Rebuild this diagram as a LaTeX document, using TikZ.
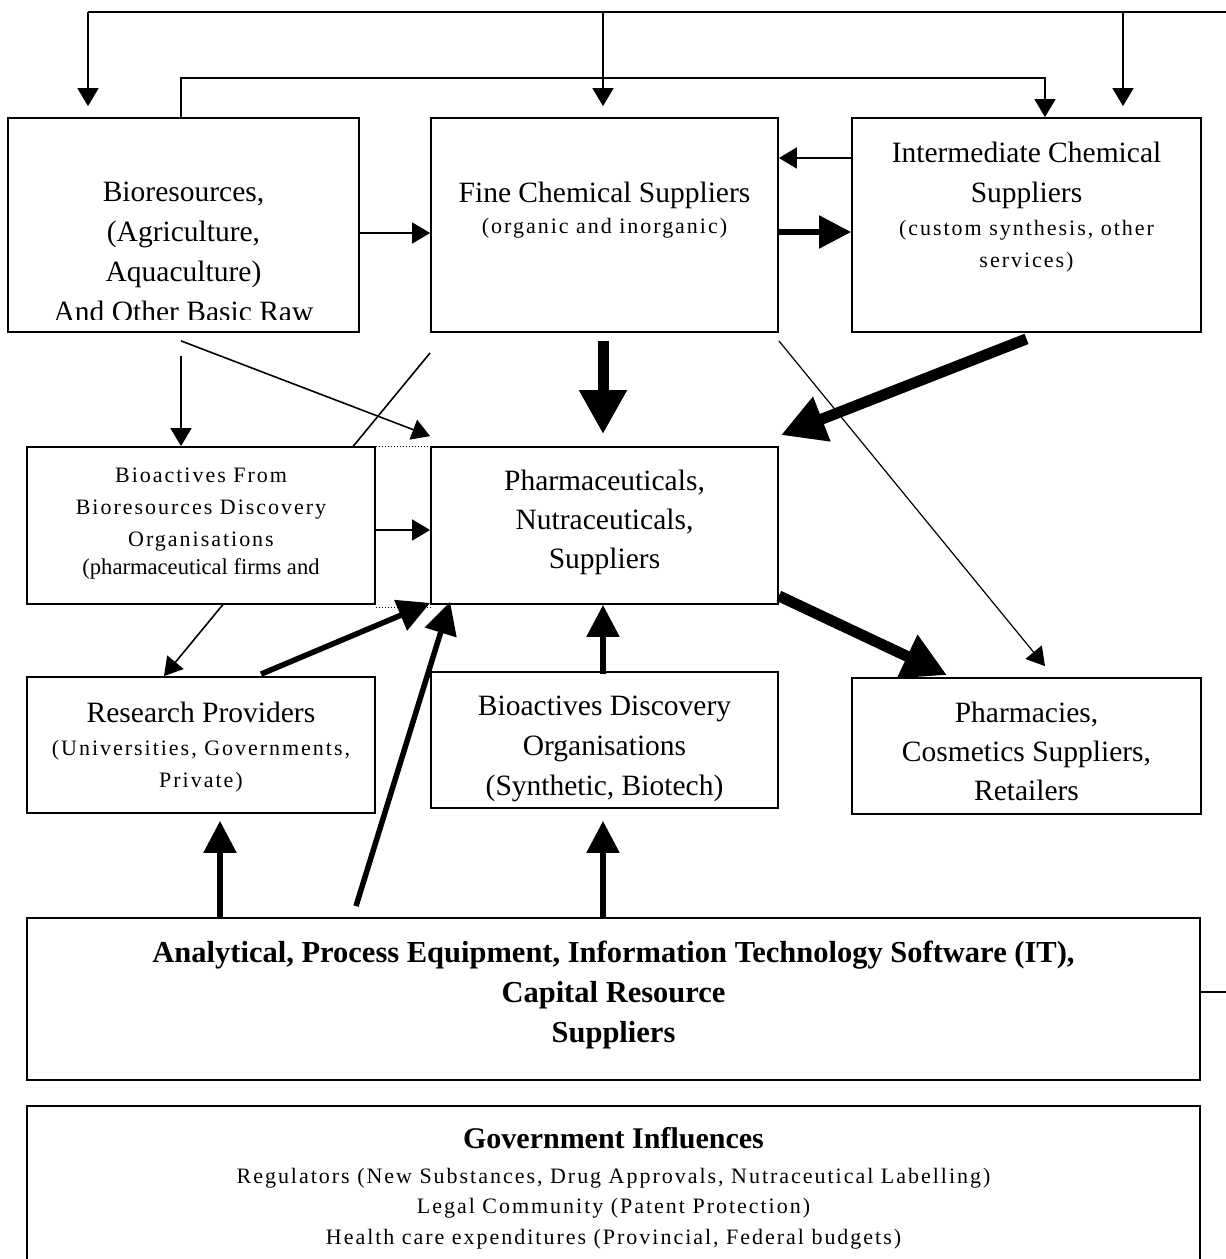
\documentclass[tikz,border=0pt]{standalone}
\usepackage{fontspec}
\setmainfont{Liberation Serif}
\newfontfamily\spacedserif[LetterSpace=9]{Liberation Serif}
\newcommand{\bigtext}{\fontsize{29.5}{40}\selectfont}
\newcommand{\subtext}{\spacedserif\fontsize{22}{32}\selectfont}
\usetikzlibrary{arrows.meta}
\usetikzlibrary{backgrounds}

\begin{document}
\begin{tikzpicture}[x=1pt, y=-1pt,
    box/.style = {draw, line width=1.8pt, fill=white, inner sep=0pt},
    txt/.style = {align=center, inner sep=0pt, anchor=north},
    thin/.style = {line width=1.6pt, -{Triangle[length=18pt, width=21pt]}},
    mid/.style = {line width=5.5pt, -{Triangle[length=32pt, width=32pt]}},
    heavy/.style = {line width=11pt, -{Triangle[length=44pt, width=45pt]}}]
    \useasboundingbox (0,0) rectangle (1226,1259);
    % Nodes
    \node[box, minimum width=351pt, minimum height=214pt] (biores) at (183.5,225) {};
    \node[box, minimum width=347pt, minimum height=214pt] (fine) at (604.5,225) {};
    \node[box, minimum width=349pt, minimum height=214pt] (inter) at (1026.5,225) {};
    \node[box, minimum width=348pt, minimum height=157pt] (biofrom) at (201,525.5) {};
    \node[box, minimum width=347pt, minimum height=157pt] (pharma) at (604.5,525.5) {};
    \node[box, minimum width=348pt, minimum height=136pt] (research) at (201,745) {};
    \node[box, minimum width=347pt, minimum height=136pt] (biodisc) at (604.5,740) {};
    \node[box, minimum width=349pt, minimum height=136pt] (pharmacies) at (1026.5,746) {};
    \node[box, minimum width=1173pt, minimum height=162pt] (analytic) at (613.5,999) {};
    \node[box, minimum width=1173pt, minimum height=159pt] (gov) at (613.5,1185.5) {};

    \begin{scope}
      \clip (biores.north west) rectangle ([yshift=13pt]biores.south east);
      \node[txt, font=\bigtext] (biores-t) at (183.5,182)
        {Bioresources,\\(Agriculture,\\Aquaculture)\\And Other Basic Raw};
    \end{scope}
    \node[txt, font=\fontsize{29.5}{31}\selectfont] (fine-t) at (604.5,182)
      {Fine Chemical Suppliers\\{\subtext (organic and inorganic)}};
    \node[txt, font=\fontsize{29.5}{32}\selectfont] (inter-t) at (1026.5,142)
      {Intermediate Chemical\\[8pt]Suppliers\\[1pt]{\subtext (custom synthesis, other}\\{\subtext services)}};
    \node[txt, font=\subtext] (biofrom-t) at (201,467.5)
      {Bioactives From\\Bioresources Discovery\\Organisations\\[-4pt]{\rmfamily\fontsize{22.6}{28}\selectfont (pharmaceutical firms and}};
    \node[txt, font=\fontsize{29.5}{39}\selectfont] (pharma-t) at (604.5,470)
      {Pharmaceuticals,\\Nutraceuticals,\\Suppliers};
    \node[txt, font=\fontsize{29.5}{32}\selectfont] (research-t) at (201,702)
      {Research Providers\\[1pt]{\subtext (Universities, Governments,}\\{\subtext Private)}};
    \node[txt, font=\bigtext] (biodisc-t) at (604.5,696)
      {Bioactives Discovery\\Organisations\\(Synthetic, Biotech)};
    \node[txt, font=\fontsize{29.5}{39}\selectfont] (pharmacies-t) at (1026.5,702)
      {Pharmacies,\\Cosmetics Suppliers,\\Retailers};
    \node[txt, font=\bfseries\fontsize{30.5}{40}\selectfont] (analytic-t) at (613.5,941)
      {Analytical, Process Equipment, Information Technology Software (IT),\\Capital Resource\\Suppliers};
    \node[txt, font=\subtext\fontsize{22}{30.5}\selectfont] (gov-t) at (613.5,1127)
      {{\rmfamily\bfseries\fontsize{30}{30}\selectfont Government Influences}\\[4.5pt]
       Regulators (New Substances, Drug Approvals, Nutraceutical Labelling)\\
       Legal Community (Patent Protection)\\
       Health care expenditures (Provincial, Federal budgets)};

    % Edges
    \coordinate (loopS) at (1240,992);
    \coordinate (loopN) at (1240,12);
    \coordinate (topB) at (88,12);
    \coordinate (topF) at (603,12);
    \coordinate (topI) at (1123,12);
    \coordinate (midR) at (1045,78);
    \draw[line width=1.6pt] (analytic.east |- loopS) -- (loopS) -- (loopN) -- (topB);
    \draw[thin, shorten >=11pt] (topB) -- (topB |- biores.north);
    \draw[thin, shorten >=11pt] (topF) -- (topF |- fine.north);
    \draw[thin, shorten >=11pt] (topI) -- (topI |- inter.north);
    \draw[thin] ([xshift=-2.5pt]biores.north) |- (midR) -- (midR |- inter.north);

    \draw[thin] ([yshift=-8pt]biores.east) -- ([yshift=-8pt]fine.west);
    \draw[thin] ([yshift=67pt]inter.west) -- ([yshift=67pt]fine.east);
    \draw[mid] ([yshift=-7pt]fine.east) -- ([yshift=-7pt]inter.west);

    \draw[heavy] ([xshift=-1.5pt,yshift=-8pt]fine.south) -- ([xshift=-1.5pt,yshift=12pt]pharma.north);
    \draw[heavy] ([yshift=-6pt]inter.south) -- ([xshift=2pt,yshift=11pt]pharma.north east);
    \draw[thin] ([xshift=-2.5pt,yshift=-8pt]biores.south) -- ([yshift=10pt]pharma.north west);
    \draw[thin] ([xshift=-2.5pt,yshift=-23pt]biores.south) -- ([xshift=-20pt]biofrom.north);
    \draw[thin] ([yshift=-4.5pt]biofrom.east) -- ([yshift=-4.5pt]pharma.west);
    \draw[dotted, line width=1pt] (biofrom.north east) -- (pharma.north west);
    \draw[dotted, line width=1pt] ([yshift=-3pt]biofrom.south east) -- ([yshift=-3pt]pharma.south west);
    \draw[thin, line width=1.2pt] ([yshift=-8pt]fine.south east) -- ([xshift=18.5pt,yshift=11pt]pharmacies.north);
    \draw[heavy] ([yshift=9pt]pharma.south east) -- ([xshift=-79.5pt,yshift=2pt]pharmacies.north);

    \draw[mid] ([xshift=60pt,yshift=2pt]research.north) -- ([yshift=2pt]pharma.south west);
    \draw[mid] ([xshift=-257.5pt,yshift=11pt]analytic.north) -- ([xshift=20pt,yshift=3pt]pharma.south west);
    \draw[mid] ([xshift=-1.5pt,yshift=-3pt]biodisc.north) -- ([xshift=-1.5pt]pharma.south);
    \draw[mid] ([xshift=-393.5pt]analytic.north) -- ([xshift=19pt,yshift=-7pt]research.south);
    \draw[mid] ([xshift=-10.5pt]analytic.north) -- ([xshift=-1.5pt,yshift=-12pt]biodisc.south);

    \begin{scope}[on background layer]
      \draw[thin] ([yshift=-20pt]fine.south west) -- ([xshift=-37pt]research.north);
    \end{scope}
\end{tikzpicture}
\end{document}
